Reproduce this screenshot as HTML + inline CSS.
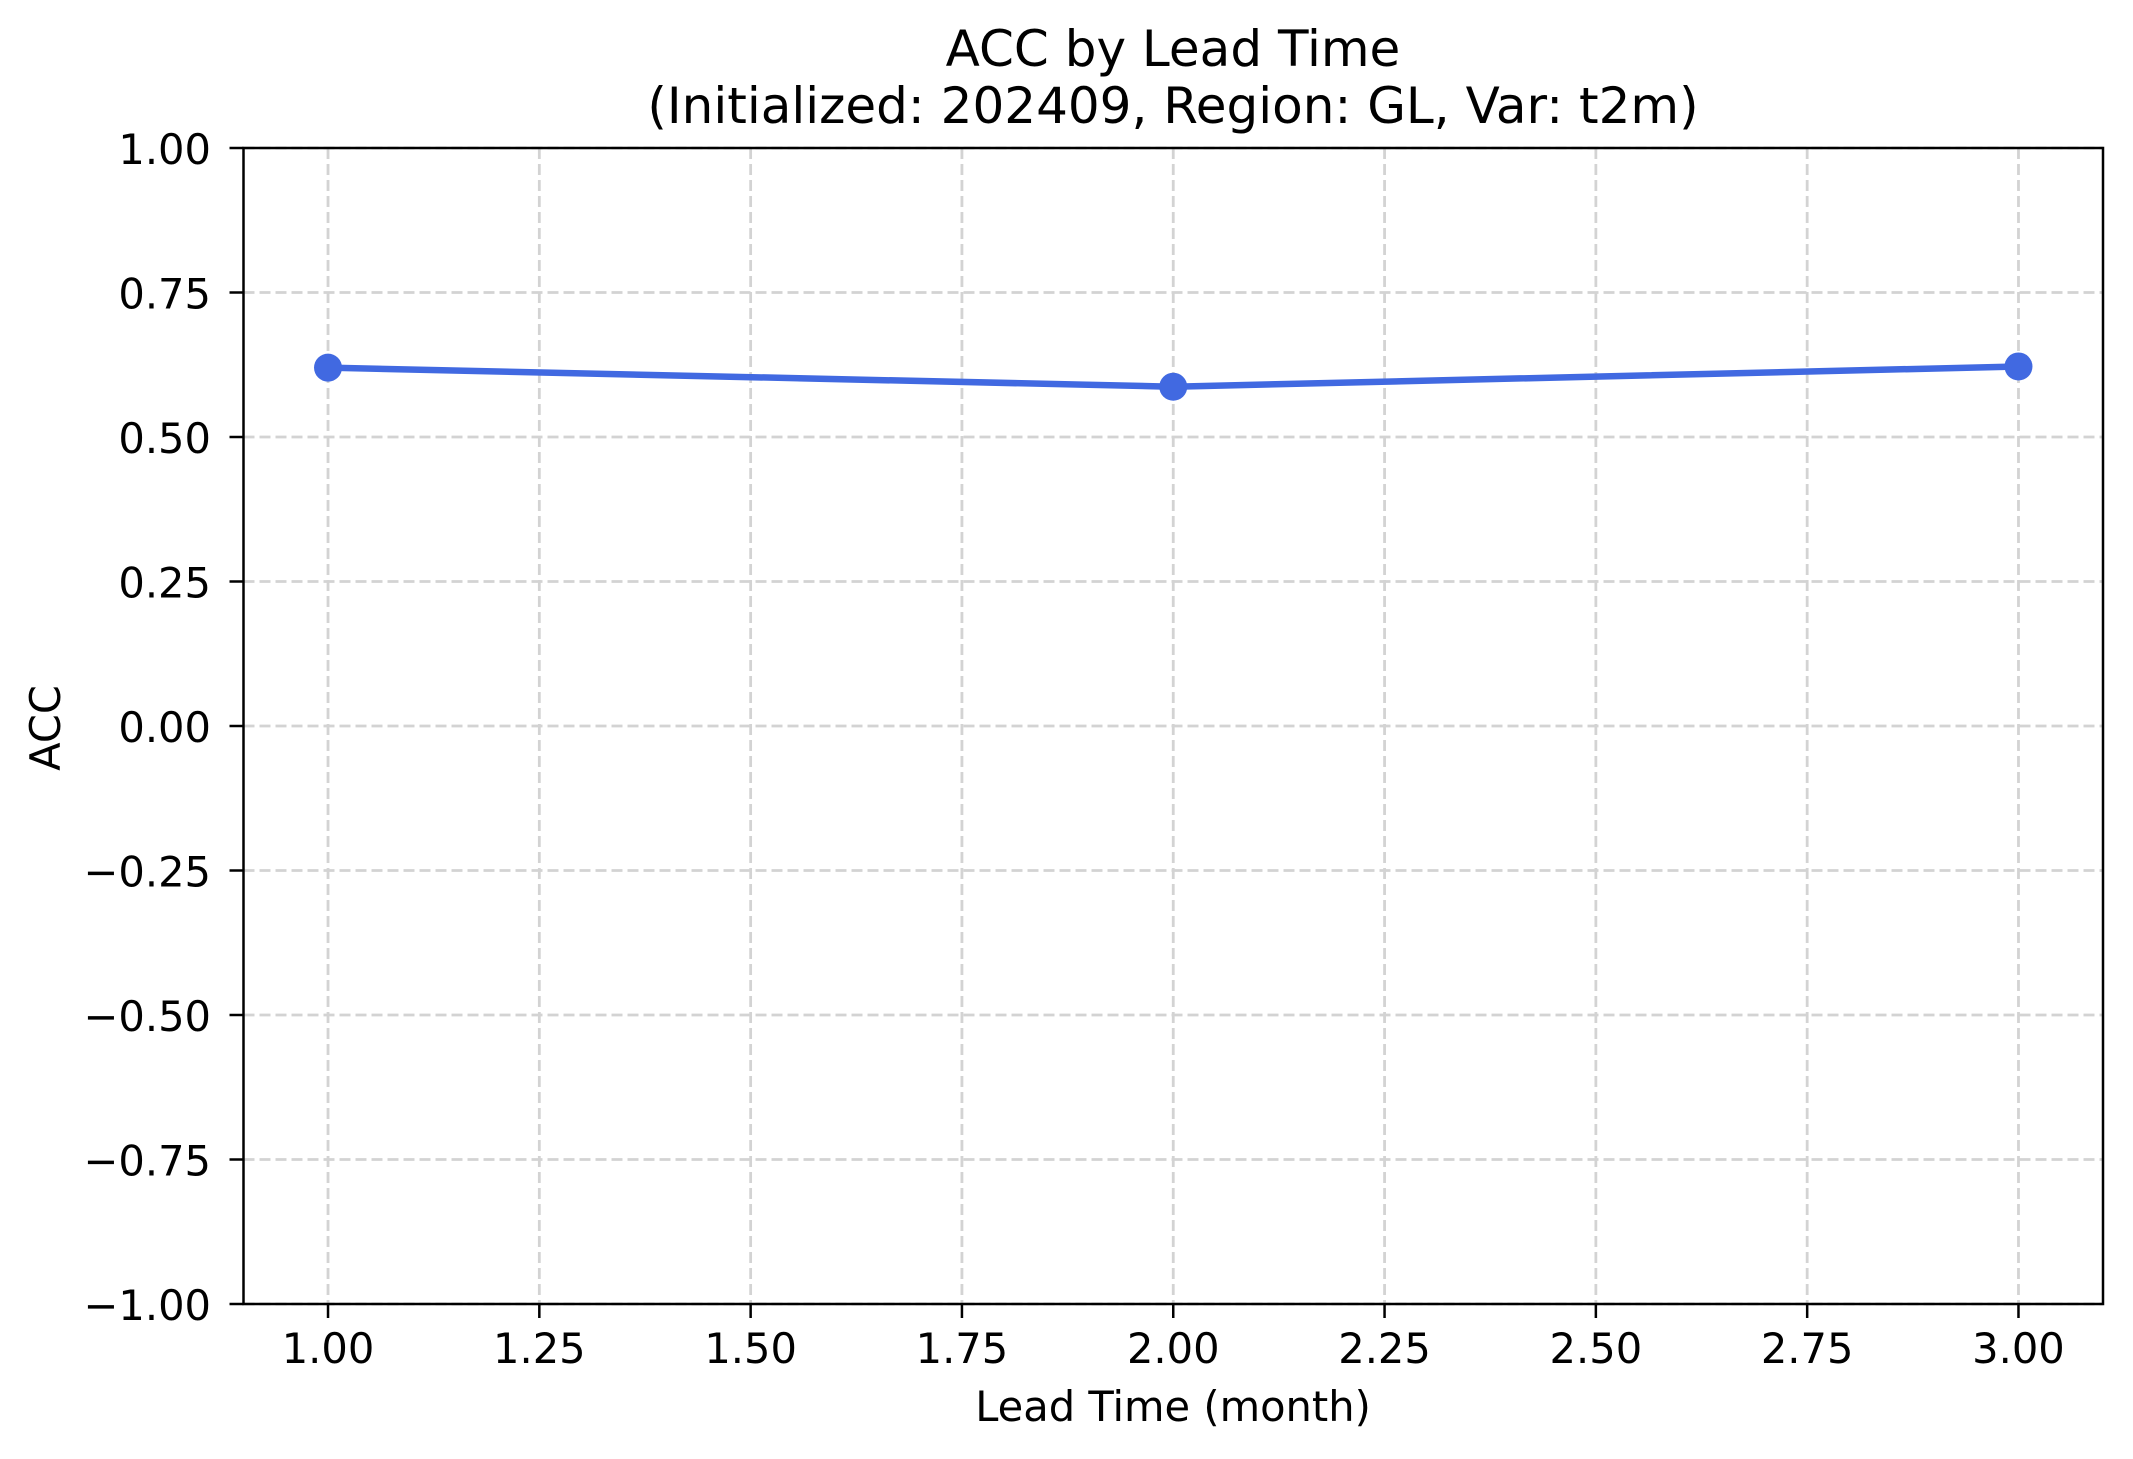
<!DOCTYPE html>
<html><head><meta charset="utf-8"><style>
html,body{margin:0;padding:0;background:#fff}
svg{display:block;font-family:"DejaVu Sans","Liberation Sans",sans-serif}
</style></head><body>
<svg id="chart" width="2133" height="1459" viewBox="0 0 2133 1459" xmlns="http://www.w3.org/2000/svg">
<rect width="2133" height="1459" fill="#fff"/>
<g id="grid"></g>
<g id="axes"></g>
<g id="series"></g>
<text x="1173" y="66" text-anchor="middle" font-size="50">ACC by Lead Time</text>
<text x="1173" y="123" text-anchor="middle" font-size="50">(Initialized: 202409, Region: GL, Var: t2m)</text>
<text x="1173" y="1421" text-anchor="middle" font-size="41.6">Lead Time (month)</text>
<text x="0" y="0" text-anchor="middle" font-size="41.6" transform="translate(60,728) rotate(-90)">ACC</text>
</svg>
<script>
const leadTimes = [1, 2, 3];
const accValues = [0.62, 0.587, 0.622];
const xTicks = [1.0, 1.25, 1.5, 1.75, 2.0, 2.25, 2.5, 2.75, 3.0];
const yTicks = [-1.0, -0.75, -0.5, -0.25, 0.0, 0.25, 0.5, 0.75, 1.0];

const L = 243.5, R = 2103, T = 148, B = 1304;
const xMin = 0.9, xMax = 3.1, yMin = -1, yMax = 1;
const NS = 'http://www.w3.org/2000/svg';
function xs(v){ return L + (v - xMin) / (xMax - xMin) * (R - L); }
function ys(v){ return B - (v - yMin) / (yMax - yMin) * (B - T); }
function mk(tag, attrs, parent){
  const e = document.createElementNS(NS, tag);
  for (const k in attrs) e.setAttribute(k, attrs[k]);
  parent.appendChild(e);
  return e;
}
const grid = document.getElementById('grid');
const axes = document.getElementById('axes');
const series = document.getElementById('series');
function fmt(v){ return (v < 0 ? '\u2212' : '') + Math.abs(v).toFixed(2); }

xTicks.forEach(v => {
  const x = xs(v);
  const g = mk('line', {x1:x, x2:x, y1:T, y2:B, stroke:'#d3d3d3', 'stroke-width':2.8, 'stroke-dasharray':'11 5'}, grid);
  
  
  const t = mk('line', {x1:x, x2:x, y1:B, y2:B+14, stroke:'#000', 'stroke-width':2.5}, axes);
  
  
  const l = mk('text', {x:x, y:1363, 'text-anchor':'middle', 'font-size':41.6}, axes);
  l.textContent = fmt(v);
  
  
});
yTicks.forEach(v => {
  const y = ys(v);
  const g = mk('line', {x1:L, x2:R, y1:y, y2:y, stroke:'#d3d3d3', 'stroke-width':2.8, 'stroke-dasharray':'11 5'}, grid);
  
  
  const t = mk('line', {x1:L-14, x2:L, y1:y, y2:y, stroke:'#000', 'stroke-width':2.5}, axes);
  
  
  const l = mk('text', {x:211, y:y+16, 'text-anchor':'end', 'font-size':41.6}, axes);
  l.textContent = fmt(v);
  
  
});
const frame = mk('rect', {x:L, y:T, width:R-L, height:B-T, fill:'none', stroke:'#000', 'stroke-width':2.5}, axes);



const pts = leadTimes.map((v, i) => xs(v) + ',' + ys(accValues[i])).join(' ');
const line = mk('polyline', {points:pts, fill:'none', stroke:'#4169e1', 'stroke-width':6.5, 'stroke-linejoin':'round'}, series);


leadTimes.forEach((v, i) => {
  const c = mk('circle', {cx:xs(v), cy:ys(accValues[i]), r:14, fill:'#4169e1'}, series);
  
  
});
</script>
</body></html>
